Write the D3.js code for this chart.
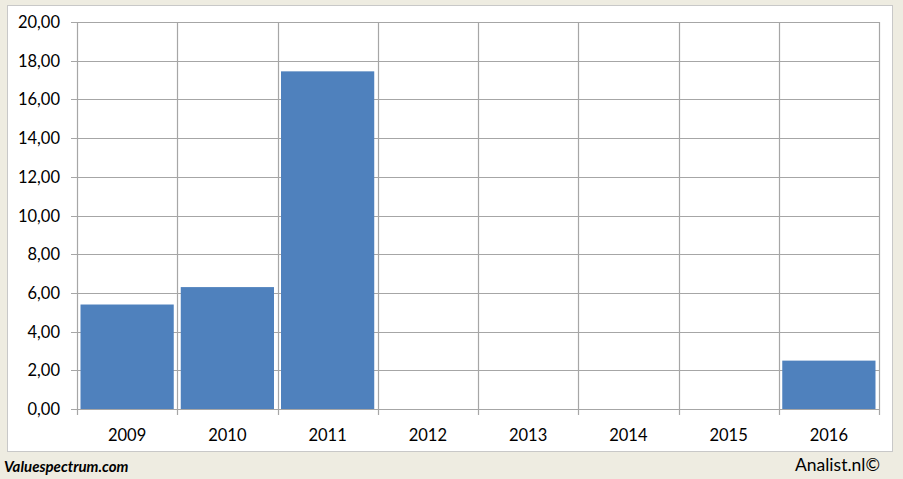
<!DOCTYPE html>
<html><head><meta charset="utf-8">
<script src="https://cdn.jsdelivr.net/npm/d3@7/dist/d3.min.js"></script>
<style>
html,body{margin:0;padding:0;background:#eeece1;}
svg{display:block;font-family:Lato,"Open Sans",sans-serif;}
</style></head><body>
<svg id="c" width="903" height="479"></svg>
<script>
const categories = ["2009","2010","2011","2012","2013","2014","2015","2016"];
const values = [5.4, 6.3, 17.45, 0, 0, 0, 0, 2.5];
const yTicks = [0,2,4,6,8,10,12,14,16,18,20];

const svg = d3.select("#c");
svg.append("rect").attr("x",0).attr("y",0).attr("width",903).attr("height",479).attr("fill","#eeece1");
svg.append("rect").attr("x",7.5).attr("y",5.5).attr("width",885).attr("height",446)
  .attr("fill","#ffffff").attr("stroke","#c8c8c8").attr("stroke-width",1);

const L=77, R=879, T=22, B=409;
const x = d3.scaleBand().domain(categories).range([L,R]).paddingInner(0.07).paddingOuter(0.035);
const xg = d3.scaleBand().domain(categories).range([L,R]);
const y = d3.scaleLinear().domain([0,20]).range([B,T]);

const grid = svg.append("g").attr("stroke","#a6a6a6").attr("stroke-width",1.2);
yTicks.forEach(t=>{
  grid.append("line").attr("x1",L-6).attr("x2",R).attr("y1",Math.round(y(t))+0.5).attr("y2",Math.round(y(t))+0.5);
});
const bounds = categories.map(c=>xg(c)).concat([R]);
bounds.forEach(b=>{
  grid.append("line").attr("x1",Math.round(b)+0.5).attr("x2",Math.round(b)+0.5).attr("y1",T).attr("y2",B+6);
});

svg.append("g").selectAll("rect").data(categories).join("rect")
  .attr("x",c=>x(c)).attr("width",x.bandwidth())
  .attr("y",(c,i)=>y(values[i])).attr("height",(c,i)=>B-y(values[i]))
  .attr("fill","#4f81bd");

svg.append("g").selectAll("text").data(yTicks).join("text")
  .attr("x",60).attr("y",t=>y(t)+6).attr("text-anchor","end")
  .attr("font-size",16.5).attr("fill","#000").text(t=>d3.format(".2f")(t).replace(".",","));

svg.append("g").selectAll("text").data(categories).join("text")
  .attr("x",c=>xg(c)+xg.bandwidth()/2).attr("y",441).attr("text-anchor","middle")
  .attr("font-size",16.5).attr("fill","#000").text(c=>c);

svg.append("text").attr("x",4).attr("y",472).attr("font-size",15).attr("font-weight","bold")
  .attr("font-style","italic").attr("fill","#000").text("Valuespectrum.com");
svg.append("text").attr("x",880).attr("y",471).attr("text-anchor","end").attr("font-size",17.5)
  .attr("fill","#000").text("Analist.nl©");
</script>
</body></html>
